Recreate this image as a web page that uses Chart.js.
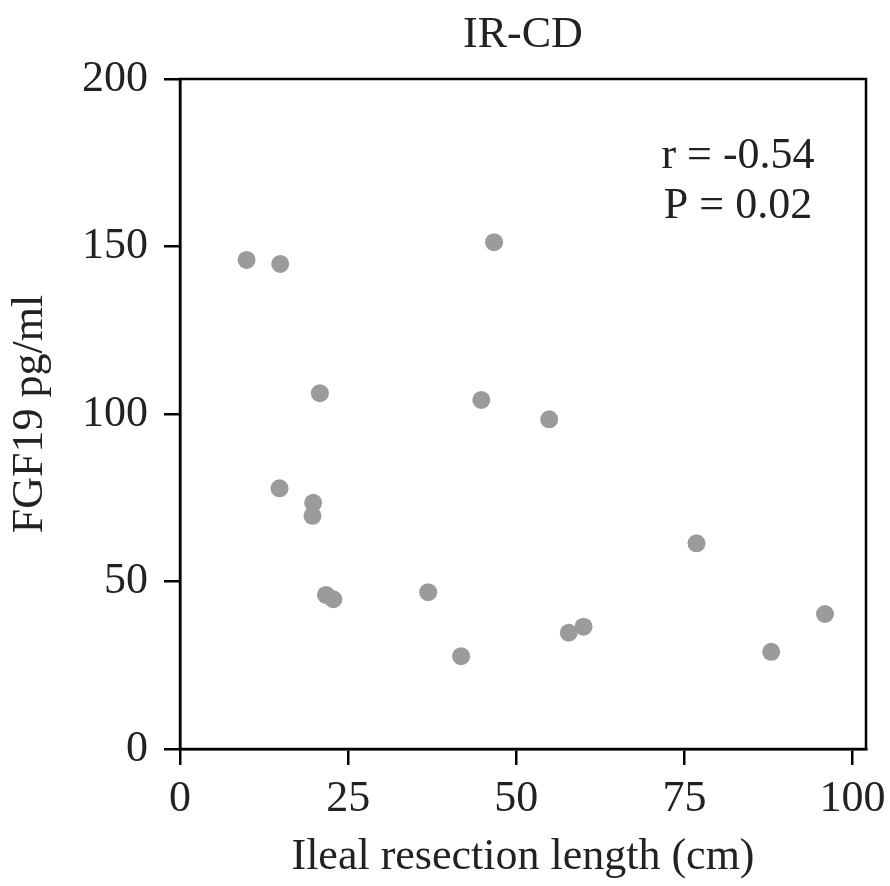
<!DOCTYPE html>
<html>
<head>
<meta charset="utf-8">
<script src="https://cdn.jsdelivr.net/npm/chart.js@4.4.1/dist/chart.umd.min.js"></script>
<style>
  html, body { margin: 0; padding: 0; background: #fff; }
  #wrap { width: 890px; height: 886px; }
</style>
</head>
<body>
<div id="wrap"><canvas id="chart"></canvas></div>
<script>
// resection length (cm) vs FGF19 (pg/ml)
var resectionLength = [9.9, 14.9, 46.7, 20.8, 44.8, 54.9, 14.8, 19.8, 19.7, 76.8, 21.7, 22.8, 36.9, 41.8, 57.8, 60.0, 87.9, 95.9];
var fgf19 = [146.0, 144.8, 151.3, 106.2, 104.2, 98.4, 77.8, 73.5, 69.6, 61.4, 46.0, 44.7, 46.8, 27.7, 34.7, 36.5, 29.0, 40.3];
var statLines = ['r = -0.54', 'P = 0.02'];
var chartTitle = 'IR-CD';

var serif = "'Liberation Serif', 'DejaVu Serif', serif";
var ink = '#222222';

var points = [];
for (var i = 0; i < resectionLength.length; i++) {
  points.push({x: resectionLength[i], y: fgf19[i]});
}

// box around the plot, title over it, stats text in the corner
var frameAndStats = {
  id: 'frameAndStats',
  afterDraw: function(chart) {
    var ctx = chart.ctx;
    var a = chart.chartArea;
    ctx.save();
    ctx.strokeStyle = '#000';
    ctx.lineWidth = 2.5;
    ctx.strokeRect(a.left, a.top, a.right - a.left, a.bottom - a.top);
    ctx.fillStyle = ink;
    ctx.font = '44px ' + serif;
    ctx.textAlign = 'center';
    ctx.textBaseline = 'alphabetic';
    ctx.fillText(chartTitle, (a.left + a.right) / 2, a.top - 32);
    ctx.fillText(statLines[0], a.right - 128, a.top + 89);
    ctx.fillText(statLines[1], a.right - 128, a.top + 139);
    ctx.restore();
  }
};

var ctx = document.getElementById('chart').getContext('2d');
window.scatterChart = new Chart(ctx, {
  type: 'scatter',
  data: {
    datasets: [{
      label: 'FGF19',
      data: points,
      backgroundColor: '#9b9b9b',
      borderWidth: 0,
      pointRadius: 9,
      pointHoverRadius: 9
    }]
  },
  options: {
    responsive: true,
    maintainAspectRatio: false,
    animation: false,
    layout: {
      padding: {left: 0, right: 24, top: 79, bottom: 0}
    },
    plugins: {
      legend: {display: false},
      tooltip: {enabled: false},
      title: {display: false}
    },
    scales: {
      x: {
        type: 'linear',
        min: 0,
        max: 102,
        afterFit: function(scale) {
          scale.height = 137;
          scale.paddingLeft = 0;
          scale.paddingRight = 0;
        },
        grid: {display: true, drawOnChartArea: false, drawTicks: true, tickLength: 16, color: '#000', lineWidth: 2.5},
        border: {display: true, color: '#000', width: 2.5},
        ticks: {
          stepSize: 25,
          includeBounds: false,
          color: ink,
          padding: 8,
          font: {family: serif, size: 44}
        },
        title: {
          display: true,
          text: 'Ileal resection length (cm)',
          color: ink,
          font: {family: serif, size: 44},
          padding: {top: 0, bottom: 2}
        }
      },
      y: {
        type: 'linear',
        min: 0,
        max: 200,
        afterFit: function(scale) { scale.width = 180; },
        grid: {display: true, drawOnChartArea: false, drawTicks: true, tickLength: 16, color: '#000', lineWidth: 2.5},
        border: {display: true, color: '#000', width: 2.5},
        ticks: {
          stepSize: 50,
          color: ink,
          padding: 16,
          font: {family: serif, size: 44}
        },
        title: {
          display: true,
          text: 'FGF19 pg/ml',
          color: ink,
          font: {family: serif, size: 44},
          padding: {top: 4, bottom: 0}
        }
      }
    }
  },
  plugins: [frameAndStats]
});
</script>
</body>
</html>
